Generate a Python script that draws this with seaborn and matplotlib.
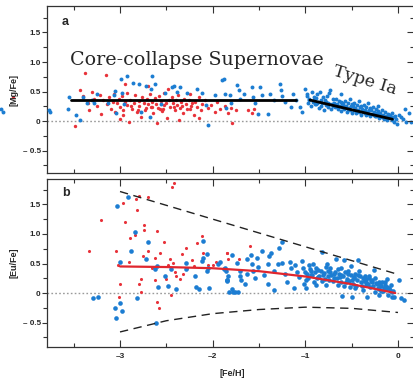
import numpy as np
import pandas as pd
import matplotlib
matplotlib.use("Agg")
import matplotlib.pyplot as plt
import seaborn as sns

# ---------------- data ----------------
mg_red_x = [-3.49,-3.43,-3.40,-3.38,-3.35,-3.33,-3.30,-3.28,-3.25,-3.22,-3.20,-3.18,-3.15,-3.14,-3.12,-3.10,
            -3.08,-3.06,-3.05,-3.03,-3.01,-3.00,-2.98,-2.97,-2.95,-2.93,-2.92,-2.90,-2.89,-2.87,-2.85,-2.84,
            -2.82,-2.80,-2.79,-2.77,-2.76,-2.74,-2.73,-2.71,-2.70,-2.68,-2.67,-2.65,-2.64,-2.62,-2.61,-2.59,
            -2.58,-2.56,-2.55,-2.53,-2.52,-2.50,-2.49,-2.47,-2.46,-2.44,-2.43,-2.41,-2.40,-2.38,-2.37,-2.35,
            -2.34,-2.32,-2.31,-2.29,-2.28,-2.26,-2.25,-2.23,-2.22,-2.20,-2.19,-2.17,-2.15,-2.13,-2.11,-2.08,
            -2.05,-2.02,-1.98,-1.95,-1.92,-1.79,-1.87,-1.83,-1.80,-1.75,-1.62,-1.58,-1.55,-2.70,-2.95,-2.48,
            -3.00,-2.60,-2.36,-2.15,-2.88,-2.72,-2.57,-2.42,-2.33,-2.24,-2.97,-2.81,-2.66,-2.54,-4.15]
mg_red_y = [-0.08,0.53,0.42,0.81,0.30,0.18,0.50,0.38,0.25,0.44,0.12,0.35,0.78,0.28,0.40,0.20,
            0.33,0.46,0.15,0.30,0.38,0.24,0.42,0.10,0.32,0.27,0.48,-0.02,0.36,0.21,0.30,0.44,
            0.16,0.34,0.26,0.07,0.40,0.31,0.19,0.37,0.28,0.45,0.23,0.33,0.13,0.39,0.29,0.22,
            0.42,0.34,0.17,0.27,0.48,0.31,0.05,0.36,0.24,0.41,0.30,0.19,0.35,0.27,0.44,0.22,
            0.32,0.14,0.38,0.28,0.20,0.36,0.46,0.25,0.31,0.10,0.33,0.24,0.40,0.18,0.29,0.35,
            0.22,0.27,0.15,0.32,0.20,-0.03,0.26,0.14,0.22,0.18,0.19,0.14,0.21,0.60,0.62,0.55,
            0.03,-0.03,0.02,0.05,0.25,0.22,0.20,0.23,0.26,0.21,0.19,0.18,0.24,0.21,0.41]

mg_blue_x = [-4.28,-4.26,
             -3.77,-3.76,-3.56,-3.55,-3.48,-3.43,-3.40,-3.36,-3.30,-3.25,-3.13,-3.07,-3.05,-3.04,-2.99,-2.92,
             -2.86,-2.80,-2.72,-2.66,-2.62,-2.67,-2.98,-2.77,-2.68,-2.44,-2.42,-2.39,-2.35,-2.28,-2.17,-2.12,
             -2.51,-2.07,-2.05,-1.98,-1.90,-1.86,-2.96,-3.28,-2.56,
             -1.88,-1.87,-1.81,-1.80,-1.74,-1.72,-1.70,-1.66,-1.58,-1.56,-1.54,-1.51,-1.49,-1.47,-1.40,-1.38,
             -1.34,-1.27,-1.26,-1.25,-1.22,-1.16,-1.13,-1.10,-1.06,-1.04,-1.00,-0.98,-0.96,
             -0.98,-0.97,-0.96,-0.94,-0.93,-0.92,-0.91,-0.90,
             -0.89,-0.88,-0.87,-0.86,-0.85,-0.84,-0.83,-0.82,-0.81,-0.80,
             -0.79,-0.78,-0.77,-0.76,-0.75,-0.74,-0.73,-0.72,-0.71,-0.70,-0.70,
             -0.69,-0.68,-0.67,-0.66,-0.65,-0.64,-0.63,-0.62,-0.61,-0.60,-0.60,-0.61,
             -0.59,-0.58,-0.57,-0.56,-0.55,-0.54,-0.53,-0.52,-0.51,-0.50,-0.50,-0.52,
             -0.49,-0.48,-0.47,-0.46,-0.45,-0.44,-0.43,-0.42,-0.41,-0.40,-0.40,-0.42,-0.46,
             -0.39,-0.38,-0.37,-0.36,-0.35,-0.34,-0.33,-0.32,-0.31,-0.30,-0.30,-0.33,-0.37,
             -0.29,-0.28,-0.27,-0.26,-0.25,-0.24,-0.23,-0.22,-0.21,-0.20,-0.22,-0.26,
             -0.19,-0.18,-0.17,-0.16,-0.15,-0.14,-0.13,-0.12,-0.11,-0.10,
             -0.09,-0.08,-0.07,-0.06,-0.05,-0.04,-0.03,-0.02,-0.01,
             0.01,0.03,0.05,0.08,0.09,0.12,0.14,
             -0.91,-0.87,-0.83,-0.78,-0.74,-0.69,-0.65,-0.58,-0.54,-0.47,-0.43,-0.36,-0.31,-0.24,-0.17,-0.12]
mg_blue_y = [0.20,0.16,
             0.19,0.16,0.20,0.40,0.11,0.01,0.40,0.30,0.36,0.45,0.30,0.44,0.51,0.13,0.72,0.77,
             0.64,0.63,0.60,0.77,0.63,0.54,0.48,0.16,0.07,0.57,0.60,0.49,0.57,0.47,0.54,0.47,
             0.47,0.27,-0.07,0.44,0.69,0.22,0.28,0.31,0.29,
             0.72,0.46,0.44,0.30,0.61,0.52,0.38,0.46,0.57,0.41,0.30,0.12,0.57,0.44,0.12,0.46,
             0.36,0.63,0.52,0.42,0.32,0.24,0.46,0.36,0.24,0.15,0.55,0.46,0.38,
             0.42,0.30,0.36,0.25,0.50,0.33,0.40,0.28,
             0.39,0.28,0.45,0.33,0.22,0.50,0.36,0.31,0.40,0.18,
             0.35,0.27,0.42,0.30,0.24,0.47,0.52,0.20,0.29,0.38,0.26,
             0.31,0.24,0.37,0.28,0.20,0.34,0.26,0.45,0.17,0.30,0.23,0.33,
             0.28,0.20,0.34,0.25,0.16,0.30,0.22,0.38,0.26,0.13,0.29,0.19,
             0.25,0.18,0.31,0.21,0.14,0.27,0.19,0.34,0.23,0.10,0.26,0.16,0.22,
             0.21,0.15,0.27,0.18,0.11,0.24,0.16,0.30,0.19,0.08,0.22,0.13,0.17,
             0.18,0.12,0.23,0.15,0.08,0.20,0.13,0.26,0.10,0.05,0.17,0.11,
             0.14,0.08,0.19,0.11,0.04,0.16,0.09,0.02,0.12,0.06,
             0.10,0.05,0.13,0.02,0.07,-0.02,0.09,0.04,-0.05,
             0.11,0.06,0.03,0.20,-0.01,0.14,-0.01,
             0.35,0.31,0.26,0.32,0.28,0.27,0.24,0.23,0.20,0.19,0.17,0.14,0.12,0.09,0.07,0.05]

mg_fit_cc_x = [-3.53, -1.10]
mg_fit_cc_y = [0.36, 0.36]
mg_fit_ia_x = [-0.95, -0.06]
mg_fit_ia_y = [0.355, 0.03]

eu_red_x = [-3.34,-3.21,-3.04,-3.02,-3.00,-3.01,-2.97,-2.95,-2.90,-2.89,-2.84,-2.83,-2.82,-2.79,-2.80,-2.77,
            -2.77,-2.75,-2.74,-2.74,-2.70,-2.70,-2.65,-2.62,-2.62,-2.60,-2.60,-2.58,-2.57,-2.52,-2.50,-2.48,
            -2.46,-2.45,-2.44,-2.42,-2.43,-2.41,-2.40,-2.35,-2.33,-2.32,-2.29,-2.28,-2.22,-2.20,-2.17,-2.12,
            -2.10,-2.05,-2.00,-1.96,-1.87,-1.85,-1.83,-1.84,-1.72,-1.60]
eu_red_y = [0.71,1.24,0.71,0.47,0.16,-0.07,1.53,1.21,0.52,0.93,0.98,1.60,1.40,1.64,0.15,0.24,
            0.01,0.63,1.15,1.07,1.62,0.72,0.43,0.60,0.22,1.05,-0.16,-0.26,0.68,0.86,0.24,0.47,
            0.58,-0.03,1.80,1.87,0.51,0.36,0.28,0.24,0.66,0.32,0.76,0.43,0.56,0.46,0.84,0.97,
            0.68,0.47,0.47,0.52,0.43,0.68,0.57,0.68,0.57,0.80]

eu_blue_x = [-3.03,-2.91,-3.00,-3.29,-3.24,-3.05,-3.00,-2.98,-3.04,-2.84,-2.88,-2.82,-2.72,-2.70,-2.62,-2.60,
             -2.61,-2.59,-2.51,-2.48,-2.45,-2.40,-2.29,-2.29,-2.19,-2.18,-2.15,-2.12,-2.10,-2.10,-2.06,-2.06,
             -2.05,-2.04,-1.94,-1.88,-1.86,-1.84,-1.85,-1.82,-1.78,
             -1.92,-1.87,-1.85,-1.83,-1.79,-1.79,-1.76,-1.73,-1.74,-1.70,-1.70,-1.69,-1.65,-1.63,-1.63,-1.59,
             -1.58,-1.56,-1.54,-1.52,-1.51,-1.47,-1.45,-1.40,-1.40,-1.39,-1.37,-1.34,-1.34,-1.29,-1.28,-1.25,
             -1.25,-1.22,-1.20,-1.17,-1.16,-1.12,-1.11,-1.09,-1.07,-1.04,-1.03,-1.01,-0.99,-0.98,-0.96,-0.94,
             -0.92,-0.89,-0.87,-0.86,-0.82,-0.81,-0.78,-0.77,-0.74,-0.73,-0.69,-0.67,-0.65,-0.63,-0.61,-0.60,
             -0.58,-0.56,-0.54,-0.52,-0.51,-0.50,-0.48,-0.45,-0.43,-0.42,-0.40,-0.38,-0.36,-0.35,-0.33,-0.31,
             -0.30,-0.28,-0.26,-0.25,-0.23,-0.21,-0.20,-0.18,-0.16,-0.14,-0.13,-0.12,-0.11,-0.07,-0.06,-0.04,
             0.01,0.03,0.06,
             -1.00,-0.97,-0.95,-0.93,-0.90,-0.88,-0.85,-0.83,-0.80,-0.79,-0.76,-0.75,-0.72,-0.70,-0.68,-0.66,
             -0.64,-0.62,-0.59,-0.57,-0.55,-0.53,-0.51,-0.49,-0.47,-0.46,-0.44,-0.41,-0.39,-0.37,-0.34,-0.32,
             -0.29,-0.27,-0.24,-0.22,-0.19,-0.17,-0.15,-0.12,-0.09,-0.08,-0.05,
             -0.99,-0.94,-0.91,-0.86,-0.82,-0.78,-0.73,-0.69,-0.65,-0.61,-0.58,-0.54,-0.50,-0.46,-0.43,-0.38,
             -0.35,-0.31,-0.28,-0.25,-0.21,-0.18,-0.14,-0.10]
eu_blue_y = [1.48,1.62,0.53,-0.09,-0.07,-0.26,-0.17,-0.30,-0.43,1.04,0.71,-0.08,0.58,0.86,0.40,0.46,
             -0.50,0.11,0.29,0.12,0.40,0.06,0.51,0.41,0.29,0.11,0.07,0.54,0.60,0.88,0.38,0.66,
             0.42,0.09,0.50,0.41,0.38,0.22,0.20,0.02,0.01,
             0.53,0.42,0.22,0.28,0.65,0.06,0.02,0.02,0.51,0.38,0.29,0.22,0.16,0.32,0.58,0.64,
             0.50,0.38,0.26,0.60,0.44,0.71,0.31,0.50,0.16,0.62,0.68,0.05,0.38,0.50,0.76,0.87,
             0.51,0.32,0.19,0.53,0.42,0.08,0.47,0.36,0.27,0.55,0.42,0.16,0.08,0.32,0.47,0.38,
             0.50,0.14,0.25,0.39,0.70,0.30,0.14,0.50,0.22,0.42,0.33,0.57,0.14,0.27,0.42,-0.05,
             0.56,0.19,0.32,0.10,0.45,-0.06,0.25,0.12,0.56,0.38,0.19,0.05,0.28,0.13,-0.06,0.25,
             0.10,0.19,0.39,0.02,0.15,0.06,-0.03,0.12,0.04,0.18,0.06,0.23,-0.03,0.01,-0.07,-0.06,
             0.22,-0.09,-0.12,
             0.36,0.26,0.41,0.31,0.35,0.43,0.29,0.38,0.34,0.24,0.37,0.28,0.30,0.21,0.36,0.25,
             0.33,0.18,0.29,0.35,0.24,0.20,0.30,0.16,0.27,0.33,0.22,0.28,0.12,0.20,0.24,0.16,
             0.21,0.12,0.17,0.08,0.14,0.19,0.09,0.11,0.05,0.13,0.03,
             0.22,0.30,0.18,0.27,0.20,0.44,0.35,0.26,0.40,0.31,0.12,0.38,0.22,0.09,0.30,0.25,
             0.18,0.29,0.22,0.26,0.18,0.04,0.14,0.08]

eu_fit_x = [-3.0, -2.5, -2.0, -1.5, -1.0, -0.5, -0.03]
eu_fit_y = [0.45, 0.44, 0.42, 0.37, 0.28, 0.15, 0.0]
eu_upper_x = [-3.0, -0.01]
eu_upper_y = [1.72, 0.32]
eu_lower_x = [-3.0, -2.5, -2.0, -1.5, -1.0, -0.5, 0.0]
eu_lower_y = [-0.66, -0.47, -0.35, -0.28, -0.24, -0.26, -0.33]

y_ticks = [1.5, 1.0, 0.5, 0, -0.5]
y_tick_labels = ["1.5", "1.0", "0.5", "0", "\u2013 0.5"]
x_ticks = [-3, -2, -1, 0]
x_tick_labels = ["\u20133", "\u20132", "\u20131", "0"]

# ---------------- style ----------------
sns.set_style("ticks")
plt.rcParams["font.family"] = ["Liberation Sans", "DejaVu Sans"]

BLUE = "#1c7dd2"
RED = "#e8323a"
W, H = 413, 378
fig = plt.figure(figsize=(W / 100, H / 100), dpi=100)
left = 47 / W
width = (W - 47) / W
ax_a = fig.add_axes([left, 1 - 173 / H, width, (173 - 6) / H])
ax_b = fig.add_axes([left, 1 - 347 / H, width, (347 - 179) / H])

XL = (-3.788, 0.162)


def style_axis(ax, ylim, show_xlabels):
    ax.set_xlim(*XL)
    ax.set_ylim(*ylim)
    ax.set_yticks(y_ticks)
    ax.set_yticklabels(y_tick_labels)
    ax.set_yticks(np.arange(-0.75, 1.9, 0.25), minor=True)
    ax.set_xticks(x_ticks)
    ax.set_xticks([-3.5, -2.5, -1.5, -0.5], minor=True)
    if show_xlabels:
        ax.set_xticklabels(x_tick_labels)
    else:
        ax.set_xticklabels([])
    ax.tick_params(axis="x", which="both", direction="in", top=True, bottom=True,
                   color="#333333", width=0.8)
    ax.tick_params(axis="x", which="major", length=5, labelsize=6, pad=4)
    ax.tick_params(axis="x", which="minor", length=3)
    ax.tick_params(axis="y", which="both", direction="out", left=True, right=False,
                   color="#333333", width=0.8)
    ax.tick_params(axis="y", which="major", length=3.5, labelsize=5.8, pad=1)
    ax.tick_params(axis="y", which="minor", length=3)
    for lab in ax.get_xticklabels() + ax.get_yticklabels():
        lab.set_fontweight("bold")
    for s in ["left", "top", "bottom"]:
        ax.spines[s].set_color("#333333")
        ax.spines[s].set_linewidth(0.9)
    ax.spines["right"].set_visible(False)
    ax.set_xlabel("")
    ax.set_ylabel("")
    ax.axhline(0, color="#9a9a9a", lw=1.0, ls=(0, (1.2, 1.6)), zorder=1)
    # inward ticks on right side
    tw = ax.twinx()
    tw.set_ylim(*ylim)
    tw.set_yticks(y_ticks)
    tw.set_yticks(np.arange(-0.75, 1.9, 0.25), minor=True)
    tw.tick_params(axis="y", which="both", direction="in", labelright=False,
                   color="#333333", width=0.8)
    tw.tick_params(axis="y", which="major", length=4)
    tw.tick_params(axis="y", which="minor", length=2.5)
    for s in tw.spines.values():
        s.set_visible(False)


# ---------------- panel a ----------------
df_mr = pd.DataFrame({"x": mg_red_x, "y": mg_red_y})
df_mb = pd.DataFrame({"x": mg_blue_x, "y": mg_blue_y})
sns.scatterplot(data=df_mr, x="x", y="y", ax=ax_a, color=RED, marker="o", s=6,
                linewidth=0, zorder=3, clip_on=False)
sns.scatterplot(data=df_mb, x="x", y="y", ax=ax_a, color=BLUE, marker="o", s=8,
                linewidth=0, zorder=3, clip_on=False)
sns.lineplot(x=mg_fit_cc_x, y=mg_fit_cc_y, ax=ax_a, color="black", lw=2.0, zorder=5)
sns.lineplot(x=mg_fit_ia_x, y=mg_fit_ia_y, ax=ax_a, color="black", lw=2.0, zorder=5)
style_axis(ax_a, (-0.881, 1.949), False)

SERIF = ["DejaVu Serif", "Liberation Serif"]
ax_a.text(0.041, 0.904, "a", transform=ax_a.transAxes, fontsize=9, fontweight="bold",
          ha="left", va="center")
ax_a.text(-3.54, 1.03, "Core-collapse Supernovae", fontsize=13.7, ha="left", va="center",
          family=SERIF, zorder=6)
ax_a.text(-0.36, 0.69, "Type Ia", fontsize=12.5, ha="center", va="center", rotation=-17,
          family=SERIF, zorder=6)

# ---------------- panel b ----------------
df_er = pd.DataFrame({"x": eu_red_x, "y": eu_red_y})
df_eb = pd.DataFrame({"x": eu_blue_x, "y": eu_blue_y})
sns.scatterplot(data=df_er, x="x", y="y", ax=ax_b, color=RED, marker="o", s=5,
                linewidth=0, zorder=3)
sns.scatterplot(data=df_eb, x="x", y="y", ax=ax_b, color=BLUE, marker="o", s=11,
                linewidth=0, zorder=3)
sns.lineplot(x=eu_fit_x, y=eu_fit_y, ax=ax_b, color="#e0262e", lw=1.6, zorder=5)
sns.lineplot(x=eu_upper_x, y=eu_upper_y, ax=ax_b, color="#222222", lw=1.0,
             zorder=5).lines[-1].set_dashes([6, 4])
sns.lineplot(x=eu_lower_x, y=eu_lower_y, ax=ax_b, color="#222222", lw=1.0,
             zorder=5).lines[-1].set_dashes([6, 4])
style_axis(ax_b, (-0.915, 1.932), True)
ax_b.text(0.041, 0.917, "b", transform=ax_b.transAxes, fontsize=9, fontweight="bold",
          ha="left", va="center")

# axis labels
fig.text(14 / W, 1 - 89.5 / H, "[Mg/Fe]", rotation=90, fontsize=6.5, fontweight="bold",
         ha="center", va="center")
fig.text(14 / W, 1 - 263 / H, "[Eu/Fe]", rotation=90, fontsize=6.5, fontweight="bold",
         ha="center", va="center")
fig.text(232 / W, 1 - 373 / H, "[Fe/H]", fontsize=6.5, fontweight="bold",
         ha="center", va="center")

fig.savefig("out.png", dpi=100)
